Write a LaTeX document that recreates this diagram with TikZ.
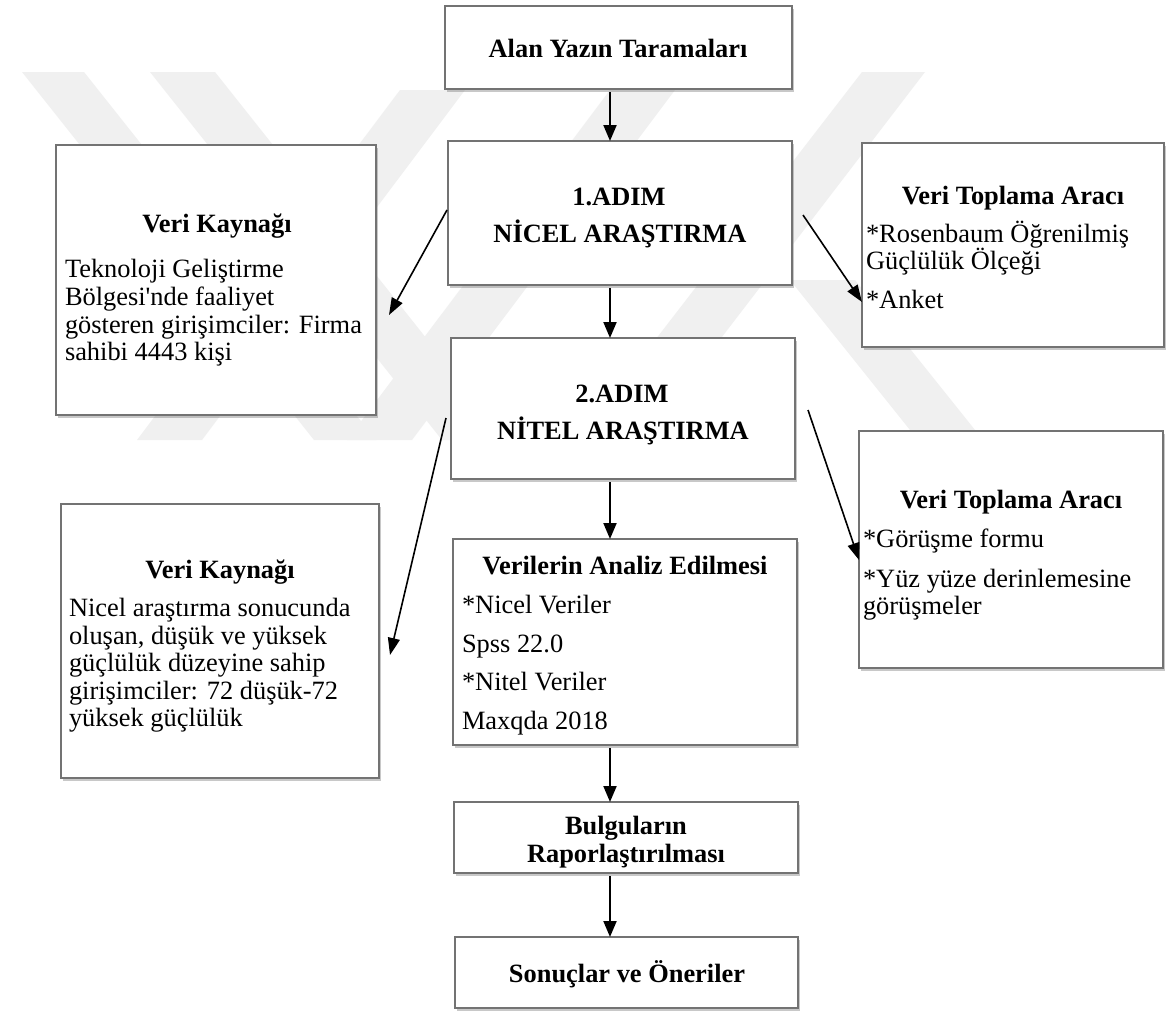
\documentclass[tikz,border=0pt]{standalone}
\usepackage{fontspec}
\setmainfont{Liberation Serif}
\usetikzlibrary{arrows.meta,shadows}
\tikzset{
  box/.style={draw=black!55, line width=1.2pt, fill=white,
    drop shadow={shadow xshift=1.5pt, shadow yshift=-3pt, opacity=0.3, fill=black!70},
    inner sep=0pt, outer sep=0pt},
  txt/.style={inner sep=0pt, outer sep=0pt, font=\fontsize{26.4}{27.5}\selectfont},
  ttl/.style={inner sep=0pt, outer sep=0pt, font=\fontsize{26.4}{27.5}\selectfont\bfseries},
  varr/.style={line width=2pt, shorten <=3pt, -{Triangle[length=16pt,width=13pt]}},
  darr/.style={line width=1.6pt, -{Triangle[length=17pt,width=12pt]}},
  wm/.style={fill=black!6, draw=none}
}
\newcommand{\mybox}[5]{\node[box, anchor=north west, minimum width=#4pt, minimum height=#5pt] (#1) at (#2,#3) {};}
\newcommand{\txtC}[4]{\node[ttl, anchor=base] (#1) at (#2,#3+9) {#4};}
\newcommand{\txtL}[4]{\node[txt, anchor=base west] (#1) at (#2,#3+9) {#4};}
\begin{document}
\begin{tikzpicture}[x=1pt,y=-1pt]
\useasboundingbox (0,0) rectangle (1171,1012);
\fill[white] (0,0) rectangle (1171,1012);
% watermark
\fill[wm] (22,72) -- (84,72) -- (376,440) -- (314,440) -- cycle;
\fill[wm] (150,72) -- (215,72) -- (507,440) -- (442,440) -- cycle;
\fill[wm] (862,72) -- (925,72) -- (643,440) -- (578,440) -- cycle;
\fill[wm] (610,90) -- (675,90) -- (412,440) -- (347,440) -- cycle;
\fill[wm] (400,90) -- (465,90) -- (202,440) -- (137,440) -- cycle;
\fill[wm] (790,280) -- (855,280) -- (983,440) -- (918,440) -- cycle;
% boxes
\mybox{b1}{445}{6}{347}{83}
\mybox{b2}{448}{141}{344}{144}
\mybox{b3}{451}{338}{344}{141}
\mybox{b4}{453}{539}{344}{206}
\mybox{b5}{454}{802}{344}{71}
\mybox{b6}{455}{937}{343}{71}
\mybox{l1}{56}{145}{320}{270}
\mybox{l2}{61}{504}{318}{274}
\mybox{r1}{862}{143}{302}{204}
\mybox{r2}{859}{431}{304}{237}
% texts
\txtC{t1}{618}{48}{Alan Yazın Taramaları}
\txtC{t2a}{619}{196}{1.ADIM}
\txtC{t2b}{620}{233}{NİCEL ARAŞTIRMA}
\txtC{t3a}{622}{393}{2.ADIM}
\txtC{t3b}{623}{430}{NİTEL ARAŞTIRMA}
\txtC{t4}{625}{565}{Verilerin Analiz Edilmesi}
\txtL{t4a}{462}{604}{*Nicel Veriler}
\txtL{t4b}{462}{643}{Spss 22.0}
\txtL{t4c}{462}{681}{*Nitel Veriler}
\txtL{t4d}{462}{720}{Maxqda 2018}
\txtC{t5a}{626}{825}{Bulguların}
\txtC{t5b}{626}{853}{Raporlaştırılması}
\txtC{t6}{627}{973}{Sonuçlar ve Öneriler}
\txtC{tl1}{217}{223}{Veri Kaynağı}
\txtL{tl1a}{65}{268}{Teknoloji Geliştirme}
\txtL{tl1b}{65}{296}{Bölgesi\textquotesingle nde faaliyet}
\txtL{tl1c}{65}{324}{gösteren girişimciler: Firma}
\txtL{tl1d}{65}{351}{sahibi 4443 kişi}
\txtC{tl2}{220}{569}{Veri Kaynağı}
\txtL{tl2a}{69}{607}{Nicel araştırma sonucunda}
\txtL{tl2b}{69}{635}{oluşan, düşük ve yüksek}
\txtL{tl2c}{69}{662}{güçlülük düzeyine sahip}
\txtL{tl2d}{69}{690}{girişimciler: 72 düşük-72}
\txtL{tl2e}{69}{717}{yüksek güçlülük}
\txtC{tr1}{1013}{195}{Veri Toplama Aracı}
\txtL{tr1a}{866}{233}{*Rosenbaum Öğrenilmiş}
\txtL{tr1b}{866}{260}{Güçlülük Ölçeği}
\txtL{tr1c}{866}{299}{*Anket}
\txtC{tr2}{1011}{499}{Veri Toplama Aracı}
\txtL{tr2a}{863}{538}{*Görüşme formu}
\txtL{tr2b}{863}{578}{*Yüz yüze derinlemesine}
\txtL{tr2c}{863}{605}{görüşmeler}
% connectors
\coordinate (ax) at (610,0);
\coordinate (l1end) at (389,315);
\coordinate (l2end) at (390,655);
\draw[varr] (b1.south -| ax) -- (b2.north -| ax);
\draw[varr] (b2.south -| ax) -- (b3.north -| ax);
\draw[varr] (b3.south -| ax) -- (b4.north -| ax);
\draw[varr] (b4.south -| ax) -- (b5.north -| ax);
\draw[varr] (b5.south -| ax) -- (b6.north -| ax);
\draw[darr] ([xshift=-1pt,yshift=-69pt]b2.north west) -- (l1end);
\draw[darr] ([xshift=11pt,yshift=-74pt]b2.north east) -- ([yshift=-159pt]r1.north west);
\draw[darr] ([xshift=-5pt,yshift=-80pt]b3.north west) -- (l2end);
\draw[darr] ([xshift=13pt,yshift=-72pt]b3.north east) -- ([yshift=-129pt]r2.north west);
\end{tikzpicture}
\end{document}
